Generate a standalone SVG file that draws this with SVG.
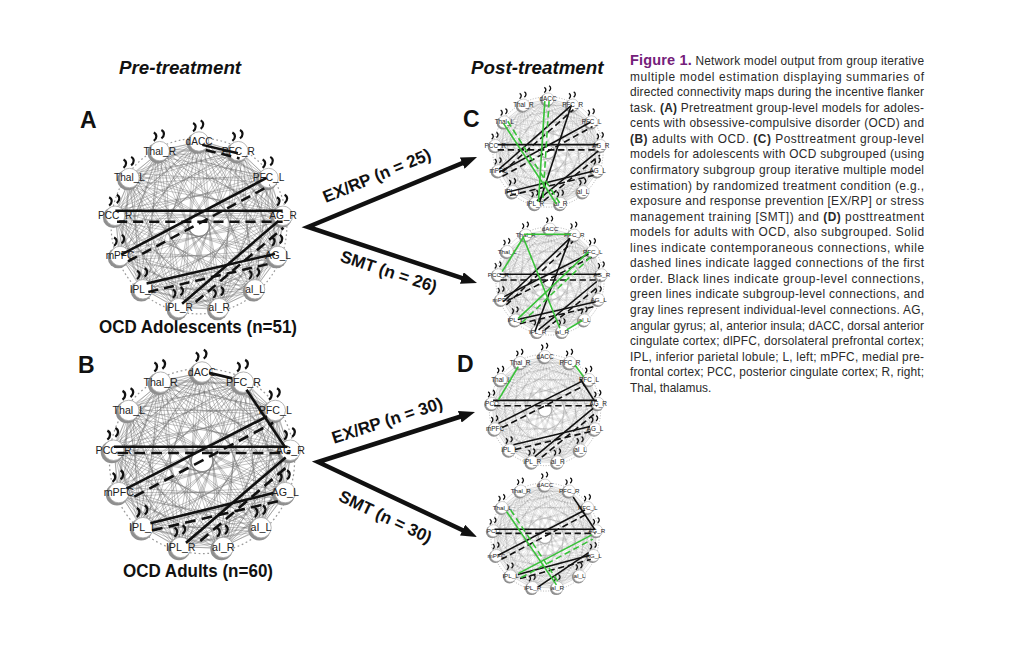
<svg xmlns="http://www.w3.org/2000/svg" xmlns:xlink="http://www.w3.org/1999/xlink" width="1024" height="647" viewBox="0 0 1024 647">
<style>
text{font-family:"Liberation Sans",Arial,Helvetica,sans-serif}
.mesh polygon{fill:none;stroke:#6e6e6e;stroke-width:0.9}
.mA{stroke-opacity:.5}
.mC{stroke-opacity:.3}
.ring{fill:none;stroke:#9a9a9a;stroke-width:1.4;stroke-dasharray:2 3}
.lbl{font-size:12px;text-anchor:middle;fill:#222}
.e{fill:none;stroke:#111;stroke-width:3}
.d{stroke-dasharray:12 7}
.g{stroke:#38c238}
.cap{font-size:11.9px;fill:#2a2a2a}
.b{font-weight:bold}
.hd{font-size:18.8px;font-weight:bold;font-style:italic;fill:#111}
.pl{font-size:23px;font-weight:bold;fill:#111}
.ttl{font-size:17.5px;font-weight:bold;fill:#111;text-anchor:middle}
.al{font-size:17px;font-weight:bold;fill:#111;text-anchor:middle}
.arr{fill:none;stroke:#111;stroke-width:4.5;stroke-linejoin:miter}
</style>
<defs>
<g id="mesh" class="mesh">
<polygon points="0,-100 46.5,-88.6 82.3,-56.8 99.3,-12.1 93.5,35.5 66.3,74.9 23.9,97.1 -23.9,97.1 -66.3,74.9 -93.5,35.5 -99.3,-12.1 -82.3,-56.8 -46.5,-88.6"/>
<polygon points="0,-100 82.3,-56.8 93.5,35.5 23.9,97.1 -66.3,74.9 -99.3,-12.1 -46.5,-88.6 46.5,-88.6 99.3,-12.1 66.3,74.9 -23.9,97.1 -93.5,35.5 -82.3,-56.8"/>
<polygon points="0,-100 99.3,-12.1 23.9,97.1 -93.5,35.5 -46.5,-88.6 82.3,-56.8 66.3,74.9 -66.3,74.9 -82.3,-56.8 46.5,-88.6 93.5,35.5 -23.9,97.1 -99.3,-12.1"/>
<polygon points="0,-100 93.5,35.5 -66.3,74.9 -46.5,-88.6 99.3,-12.1 -23.9,97.1 -82.3,-56.8 82.3,-56.8 23.9,97.1 -99.3,-12.1 46.5,-88.6 66.3,74.9 -93.5,35.5"/>
<polygon points="0,-100 66.3,74.9 -99.3,-12.1 82.3,-56.8 -23.9,97.1 -46.5,-88.6 93.5,35.5 -93.5,35.5 46.5,-88.6 23.9,97.1 -82.3,-56.8 99.3,-12.1 -66.3,74.9"/>
<polygon points="0,-100 23.9,97.1 -46.5,-88.6 66.3,74.9 -82.3,-56.8 93.5,35.5 -99.3,-12.1 99.3,-12.1 -93.5,35.5 82.3,-56.8 -66.3,74.9 46.5,-88.6 -23.9,97.1"/>
</g>
<g id="nd">
<circle cx="-2" cy="2" r="12.5" fill="#8f8f8f"/>
<circle r="11.5" fill="#fff" stroke="#aaa" stroke-width="1"/>
<path d="M-7,-22 c4,2 4,7 0,10 M2,-25 c4,2 4,7 0,10" fill="none" stroke="#111" stroke-width="2.6"/>
</g>
<marker id="ah" viewBox="0 0 16 12" markerWidth="16" markerHeight="12" refX="6" refY="6" orient="auto-start-reverse" markerUnits="userSpaceOnUse">
<path d="M0,0 L16,6 L0,12 z" fill="#111"/>
</marker>
</defs>
<rect width="1024" height="647" fill="#fff"/>

<text class="hd" x="119" y="74">Pre-treatment</text>
<text class="hd" x="471" y="74">Post-treatment</text>
<text class="pl" x="80" y="128">A</text>
<text class="pl" x="78" y="373">B</text>
<text class="pl" x="463" y="127">C</text>
<text class="pl" x="457" y="372">D</text>
<text class="ttl" x="198" y="333" textLength="198" lengthAdjust="spacingAndGlyphs">OCD Adolescents (n=51)</text>
<text class="ttl" x="198" y="577" textLength="150" lengthAdjust="spacingAndGlyphs">OCD Adults (n=60)</text>

<g id="netA" transform="translate(199,226) scale(0.845)">
<g class="mA"><use href="#mesh"/><use href="#mesh" transform="rotate(4)"/><use href="#mesh" transform="rotate(-4) scale(0.97)"/></g>
<circle class="ring" r="104"/><circle r="8" fill="#fff"/>
<g id="A-dACC" transform="translate(0,-100)"><use href="#nd"/><text class="lbl" y="4">dACC</text></g>
<g id="A-dlPFC_R" transform="translate(46.5,-88.6)"><use href="#nd"/><text class="lbl" y="4">PFC_R</text></g>
<g id="A-dlPFC_L" transform="translate(82.3,-56.8)"><use href="#nd"/><text class="lbl" y="4">PFC_L</text></g>
<g id="A-AG_R" transform="translate(99.3,-12.1)"><use href="#nd"/><text class="lbl" y="4">AG_R</text></g>
<g id="A-AG_L" transform="translate(93.5,35.5)"><use href="#nd"/><text class="lbl" y="4">AG_L</text></g>
<g id="A-aI_L" transform="translate(66.3,74.9)"><use href="#nd"/><text class="lbl" y="4">aI_L</text></g>
<g id="A-aI_R" transform="translate(23.9,97.1)"><use href="#nd"/><text class="lbl" y="4">aI_R</text></g>
<g id="A-IPL_R" transform="translate(-23.9,97.1)"><use href="#nd"/><text class="lbl" y="4">IPL_R</text></g>
<g id="A-IPL_L" transform="translate(-66.3,74.9)"><use href="#nd"/><text class="lbl" y="4">IPL_L</text></g>
<g id="A-mPFC" transform="translate(-93.5,35.5)"><use href="#nd"/><text class="lbl" y="4">mPFC</text></g>
<g id="A-PCC" transform="translate(-99.3,-12.1)"><use href="#nd"/><text class="lbl" y="4">PCC_R</text></g>
<g id="A-Thal_L" transform="translate(-82.3,-56.8)"><use href="#nd"/><text class="lbl" y="4">Thal_L</text></g>
<g id="A-Thal_R" transform="translate(-46.5,-88.6)"><use href="#nd"/><text class="lbl" y="4">Thal_R</text></g>
</g>

<g id="netB" transform="translate(202,461) scale(0.89)">
<g class="mA"><use href="#mesh"/><use href="#mesh" transform="rotate(4)"/><use href="#mesh" transform="rotate(-4) scale(0.97)"/></g>
<circle class="ring" r="104"/><circle r="8" fill="#fff"/>
<g id="B-dACC" transform="translate(0,-100)"><use href="#nd"/><text class="lbl" y="4">dACC</text></g>
<g id="B-dlPFC_R" transform="translate(46.5,-88.6)"><use href="#nd"/><text class="lbl" y="4">PFC_R</text></g>
<g id="B-dlPFC_L" transform="translate(82.3,-56.8)"><use href="#nd"/><text class="lbl" y="4">PFC_L</text></g>
<g id="B-AG_R" transform="translate(99.3,-12.1)"><use href="#nd"/><text class="lbl" y="4">AG_R</text></g>
<g id="B-AG_L" transform="translate(93.5,35.5)"><use href="#nd"/><text class="lbl" y="4">AG_L</text></g>
<g id="B-aI_L" transform="translate(66.3,74.9)"><use href="#nd"/><text class="lbl" y="4">aI_L</text></g>
<g id="B-aI_R" transform="translate(23.9,97.1)"><use href="#nd"/><text class="lbl" y="4">aI_R</text></g>
<g id="B-IPL_R" transform="translate(-23.9,97.1)"><use href="#nd"/><text class="lbl" y="4">IPL_R</text></g>
<g id="B-IPL_L" transform="translate(-66.3,74.9)"><use href="#nd"/><text class="lbl" y="4">IPL_L</text></g>
<g id="B-mPFC" transform="translate(-93.5,35.5)"><use href="#nd"/><text class="lbl" y="4">mPFC</text></g>
<g id="B-PCC" transform="translate(-99.3,-12.1)"><use href="#nd"/><text class="lbl" y="4">PCC_R</text></g>
<g id="B-Thal_L" transform="translate(-82.3,-56.8)"><use href="#nd"/><text class="lbl" y="4">Thal_L</text></g>
<g id="B-Thal_R" transform="translate(-46.5,-88.6)"><use href="#nd"/><text class="lbl" y="4">Thal_R</text></g>
</g>

<g id="netC1" transform="translate(548,152) scale(0.53)">
<g class="mC"><use href="#mesh"/><use href="#mesh" transform="rotate(4)"/><use href="#mesh" transform="rotate(-4) scale(0.97)"/></g>
<circle class="ring" r="104"/><circle r="8" fill="#fff"/>
<g id="C1-dACC" transform="translate(0,-100)"><use href="#nd"/><text class="lbl" y="4">dACC</text></g>
<g id="C1-dlPFC_R" transform="translate(46.5,-88.6)"><use href="#nd"/><text class="lbl" y="4">PFC_R</text></g>
<g id="C1-dlPFC_L" transform="translate(82.3,-56.8)"><use href="#nd"/><text class="lbl" y="4">PFC_L</text></g>
<g id="C1-AG_R" transform="translate(99.3,-12.1)"><use href="#nd"/><text class="lbl" y="4">AG_R</text></g>
<g id="C1-AG_L" transform="translate(93.5,35.5)"><use href="#nd"/><text class="lbl" y="4">AG_L</text></g>
<g id="C1-aI_L" transform="translate(66.3,74.9)"><use href="#nd"/><text class="lbl" y="4">aI_L</text></g>
<g id="C1-aI_R" transform="translate(23.9,97.1)"><use href="#nd"/><text class="lbl" y="4">aI_R</text></g>
<g id="C1-IPL_R" transform="translate(-23.9,97.1)"><use href="#nd"/><text class="lbl" y="4">IPL_R</text></g>
<g id="C1-IPL_L" transform="translate(-66.3,74.9)"><use href="#nd"/><text class="lbl" y="4">IPL_L</text></g>
<g id="C1-mPFC" transform="translate(-93.5,35.5)"><use href="#nd"/><text class="lbl" y="4">mPFC</text></g>
<g id="C1-PCC" transform="translate(-99.3,-12.1)"><use href="#nd"/><text class="lbl" y="4">PCC_R</text></g>
<g id="C1-Thal_L" transform="translate(-82.3,-56.8)"><use href="#nd"/><text class="lbl" y="4">Thal_L</text></g>
<g id="C1-Thal_R" transform="translate(-46.5,-88.6)"><use href="#nd"/><text class="lbl" y="4">Thal_R</text></g>
</g>

<g id="netC2" transform="translate(550,281) scale(0.52)">
<g class="mC"><use href="#mesh"/><use href="#mesh" transform="rotate(4)"/><use href="#mesh" transform="rotate(-4) scale(0.97)"/></g>
<circle class="ring" r="104"/><circle r="8" fill="#fff"/>
<g id="C2-dACC" transform="translate(0,-100)"><use href="#nd"/><text class="lbl" y="4">dACC</text></g>
<g id="C2-dlPFC_R" transform="translate(46.5,-88.6)"><use href="#nd"/><text class="lbl" y="4">PFC_R</text></g>
<g id="C2-dlPFC_L" transform="translate(82.3,-56.8)"><use href="#nd"/><text class="lbl" y="4">PFC_L</text></g>
<g id="C2-AG_R" transform="translate(99.3,-12.1)"><use href="#nd"/><text class="lbl" y="4">AG_R</text></g>
<g id="C2-AG_L" transform="translate(93.5,35.5)"><use href="#nd"/><text class="lbl" y="4">AG_L</text></g>
<g id="C2-aI_L" transform="translate(66.3,74.9)"><use href="#nd"/><text class="lbl" y="4">aI_L</text></g>
<g id="C2-aI_R" transform="translate(23.9,97.1)"><use href="#nd"/><text class="lbl" y="4">aI_R</text></g>
<g id="C2-IPL_R" transform="translate(-23.9,97.1)"><use href="#nd"/><text class="lbl" y="4">IPL_R</text></g>
<g id="C2-IPL_L" transform="translate(-66.3,74.9)"><use href="#nd"/><text class="lbl" y="4">IPL_L</text></g>
<g id="C2-mPFC" transform="translate(-93.5,35.5)"><use href="#nd"/><text class="lbl" y="4">mPFC</text></g>
<g id="C2-PCC" transform="translate(-99.3,-12.1)"><use href="#nd"/><text class="lbl" y="4">PCC_R</text></g>
<g id="C2-Thal_L" transform="translate(-82.3,-56.8)"><use href="#nd"/><text class="lbl" y="4">Thal_L</text></g>
<g id="C2-Thal_R" transform="translate(-46.5,-88.6)"><use href="#nd"/><text class="lbl" y="4">Thal_R</text></g>
</g>

<g id="netD1" transform="translate(545,410) scale(0.535)">
<g class="mC"><use href="#mesh"/><use href="#mesh" transform="rotate(4)"/><use href="#mesh" transform="rotate(-4) scale(0.97)"/></g>
<circle class="ring" r="104"/><circle r="8" fill="#fff"/>
<g id="D1-dACC" transform="translate(0,-100)"><use href="#nd"/><text class="lbl" y="4">dACC</text></g>
<g id="D1-dlPFC_R" transform="translate(46.5,-88.6)"><use href="#nd"/><text class="lbl" y="4">PFC_R</text></g>
<g id="D1-dlPFC_L" transform="translate(82.3,-56.8)"><use href="#nd"/><text class="lbl" y="4">PFC_L</text></g>
<g id="D1-AG_R" transform="translate(99.3,-12.1)"><use href="#nd"/><text class="lbl" y="4">AG_R</text></g>
<g id="D1-AG_L" transform="translate(93.5,35.5)"><use href="#nd"/><text class="lbl" y="4">AG_L</text></g>
<g id="D1-aI_L" transform="translate(66.3,74.9)"><use href="#nd"/><text class="lbl" y="4">aI_L</text></g>
<g id="D1-aI_R" transform="translate(23.9,97.1)"><use href="#nd"/><text class="lbl" y="4">aI_R</text></g>
<g id="D1-IPL_R" transform="translate(-23.9,97.1)"><use href="#nd"/><text class="lbl" y="4">IPL_R</text></g>
<g id="D1-IPL_L" transform="translate(-66.3,74.9)"><use href="#nd"/><text class="lbl" y="4">IPL_L</text></g>
<g id="D1-mPFC" transform="translate(-93.5,35.5)"><use href="#nd"/><text class="lbl" y="4">mPFC</text></g>
<g id="D1-PCC" transform="translate(-99.3,-12.1)"><use href="#nd"/><text class="lbl" y="4">PCC</text></g>
<g id="D1-Thal_L" transform="translate(-82.3,-56.8)"><use href="#nd"/><text class="lbl" y="4">Thal_L</text></g>
<g id="D1-Thal_R" transform="translate(-46.5,-88.6)"><use href="#nd"/><text class="lbl" y="4">Thal_R</text></g>
</g>

<g id="netD2" transform="translate(545,537) scale(0.52)">
<g class="mC"><use href="#mesh"/><use href="#mesh" transform="rotate(4)"/><use href="#mesh" transform="rotate(-4) scale(0.97)"/></g>
<circle class="ring" r="104"/><circle r="8" fill="#fff"/>
<g id="D2-dACC" transform="translate(0,-100)"><use href="#nd"/><text class="lbl" y="4">dACC</text></g>
<g id="D2-dlPFC_R" transform="translate(46.5,-88.6)"><use href="#nd"/><text class="lbl" y="4">PFC_R</text></g>
<g id="D2-dlPFC_L" transform="translate(82.3,-56.8)"><use href="#nd"/><text class="lbl" y="4">PFC_L</text></g>
<g id="D2-AG_R" transform="translate(99.3,-12.1)"><use href="#nd"/><text class="lbl" y="4">AG_R</text></g>
<g id="D2-AG_L" transform="translate(93.5,35.5)"><use href="#nd"/><text class="lbl" y="4">AG_L</text></g>
<g id="D2-aI_L" transform="translate(66.3,74.9)"><use href="#nd"/><text class="lbl" y="4">aI_L</text></g>
<g id="D2-aI_R" transform="translate(23.9,97.1)"><use href="#nd"/><text class="lbl" y="4">aI_R</text></g>
<g id="D2-IPL_R" transform="translate(-23.9,97.1)"><use href="#nd"/><text class="lbl" y="4">IPL_R</text></g>
<g id="D2-IPL_L" transform="translate(-66.3,74.9)"><use href="#nd"/><text class="lbl" y="4">IPL_L</text></g>
<g id="D2-mPFC" transform="translate(-93.5,35.5)"><use href="#nd"/><text class="lbl" y="4">mPFC</text></g>
<g id="D2-PCC" transform="translate(-99.3,-12.1)"><use href="#nd"/><text class="lbl" y="4">PCC</text></g>
<g id="D2-Thal_L" transform="translate(-82.3,-56.8)"><use href="#nd"/><text class="lbl" y="4">Thal_L</text></g>
<g id="D2-Thal_R" transform="translate(-46.5,-88.6)"><use href="#nd"/><text class="lbl" y="4">Thal_R</text></g>
</g>

<g id="connectors">
<g transform="translate(199,226) scale(0.845)">
<path class="e" d="M4,-96 L46,-86"/><path class="e d" d="M8,-90 L48,-80"/>
<path class="e" d="M-99,-18 L99,-18"/><path class="e d" d="M-97,-5 L99,-5"/>
<path class="e" d="M-92,34 L80,-57"/><path class="e d" d="M-84,42 L84,-48"/>
<path class="e" d="M-62,68 L90,33"/><path class="e d" d="M-60,78 L86,44"/>
<path class="e" d="M-20,92 L94,-6"/><path class="e d" d="M-4,90 L100,2"/>
</g>
<g transform="translate(202,461) scale(0.89)">
<path class="e" d="M8,-99 L34,-93"/>
<path class="e" d="M50,-80 L93,-16"/>
<path class="e" d="M-99,-16 L96,-16"/><path class="e d" d="M-95,-9 L99,-9"/>
<path class="e" d="M-85,31 L73,-50"/><path class="e d" d="M-76,40 L80,-43"/>
<path class="e" d="M-58,70 L80,36"/><path class="e d" d="M-56,78 L86,45"/>
<path class="e" d="M-18,92 L94,-4"/><path class="e d" d="M-2,90 L96,6"/>
</g>
<g transform="translate(548,152) scale(0.53)">
<path class="e" d="M-95,-14 L95,-14"/><path class="e d" d="M-95,-4 L95,-4"/>
<path class="e" d="M-92,32 L42,-86"/><path class="e d" d="M-86,38 L48,-80"/>
<path class="e" d="M-92,38 L80,-56"/><path class="e d" d="M-86,46 L84,-48"/>
<path class="e" d="M-78,76 L86,36"/><path class="e d" d="M-72,82 L86,44"/>
<path class="e" d="M-21,92 L95,-2"/><path class="e d" d="M-8,92 L98,6"/>
<path class="e" d="M-16,95 L44,-88"/>
<path class="e g" d="M-6,-96 L-18,94"/><path class="e g d" d="M2,-96 L-10,94"/>
<path class="e g" d="M-84,-54 L16,98"/><path class="e g d" d="M-76,-58 L22,96"/>
</g>
<g transform="translate(550,281) scale(0.52)">
<path class="e" d="M-97,-13 L97,-13"/><path class="e d" d="M-95,-2 L97,-2"/>
<path class="e" d="M-90,40 L38,-82"/><path class="e d" d="M-84,46 L44,-76"/>
<path class="e" d="M-88,30 L74,-52"/><path class="e d" d="M-82,38 L80,-46"/>
<path class="e" d="M-29,97 L38,-82"/>
<path class="e" d="M-62,74 L88,40"/><path class="e d" d="M-58,82 L90,48"/>
<path class="e" d="M-22,94 L90,1"/><path class="e d" d="M-10,94 L94,10"/>
<path class="e g" d="M-50,-90 L40,-90"/>
<path class="e g" d="M-52,-85 L19,91"/>
<path class="e g" d="M-50,-86 L-92,-18"/>
<path class="e g" d="M-61,72 L74,-56"/><path class="e g d" d="M-54,80 L80,-48"/>
<path class="e g" d="M32,94 L62,76"/>
</g>
<g transform="translate(545,410) scale(0.535)">
<path class="e" d="M-97,-18 L97,-18"/><path class="e d" d="M-95,-8 L97,-8"/>
<path class="e" d="M-87,25 L68,-53"/><path class="e d" d="M-80,33 L74,-46"/>
<path class="e" d="M66,-58 L93,-16"/>
<path class="e" d="M-59,65 L84,31"/><path class="e d" d="M-56,74 L86,40"/>
<path class="e" d="M-19,87 L90,-3"/><path class="e d" d="M-6,88 L94,6"/>
<path class="e g" d="M-87,-19 L-50,-81"/>
<path class="e g" d="M56,-84 L72,-62"/>
</g>
<g transform="translate(545,537) scale(0.52)">
<path class="e" d="M54,-77 L96,-14"/>
<path class="e" d="M-97,-15 L97,-15"/><path class="e d" d="M-95,-7 L97,-7"/>
<path class="e" d="M-90,35 L77,-52"/><path class="e d" d="M-84,43 L82,-45"/>
<path class="e" d="M-52,72 L86,35"/><path class="e d" d="M-48,80 L88,43"/>
<path class="e" d="M-13,96 L84,30"/>
<path class="e g" d="M-74,-49 L22,92"/><path class="e g d" d="M-66,-52 L28,90"/>
<path class="e g" d="M-51,70 L90,-4"/><path class="e g d" d="M-46,78 L92,4"/>
</g>
<path id="arrows-adol" class="arr" d="M467.8,160.8 L308,227 L467.5,279.9" marker-start="url(#ah)" marker-end="url(#ah)"/>
<path id="arrows-adult" class="arr" d="M465.5,415 L318,462 L468,532.7" marker-start="url(#ah)" marker-end="url(#ah)"/>
<text class="al" x="379" y="181" transform="rotate(-22.5 379 181)">EX/RP (n = 25)</text>
<text class="al" x="387" y="277" transform="rotate(18.3 387 277)">SMT (n = 26)</text>
<text class="al" x="389" y="426" transform="rotate(-18 389 426)">EX/RP (n = 30)</text>
<text class="al" x="383" y="522" transform="rotate(25.5 383 522)">SMT (n = 30)</text>
</g>

<g id="caption" class="cap">
<text x="630" y="65" textLength="294" lengthAdjust="spacing"><tspan class="b" fill="#74207a" font-size="14.5">Figure 1.</tspan> Network model output from group iterative</text>
<text x="630" y="80.6" textLength="294" lengthAdjust="spacing">multiple model estimation displaying summaries of</text>
<text x="630" y="96.1" textLength="294" lengthAdjust="spacing">directed connectivity maps during the incentive flanker</text>
<text x="630" y="111.7" textLength="294" lengthAdjust="spacing">task. <tspan class="b">(A)</tspan> Pretreatment group-level models for adoles-</text>
<text x="630" y="127.2" textLength="294" lengthAdjust="spacing">cents with obsessive-compulsive disorder (OCD) and</text>
<text x="630" y="142.8" textLength="294" lengthAdjust="spacing"><tspan class="b">(B)</tspan> adults with OCD. <tspan class="b">(C)</tspan> Posttreatment group-level</text>
<text x="630" y="158.4" textLength="294" lengthAdjust="spacing">models for adolescents with OCD subgrouped (using</text>
<text x="630" y="173.9" textLength="294" lengthAdjust="spacing">confirmatory subgroup group iterative multiple model</text>
<text x="630" y="189.5" textLength="294" lengthAdjust="spacing">estimation) by randomized treatment condition (e.g.,</text>
<text x="630" y="205" textLength="294" lengthAdjust="spacing">exposure and response prevention [EX/RP] or stress</text>
<text x="630" y="220.6" textLength="294" lengthAdjust="spacing">management training [SMT]) and <tspan class="b">(D)</tspan> posttreatment</text>
<text x="630" y="236.2" textLength="294" lengthAdjust="spacing">models for adults with OCD, also subgrouped. Solid</text>
<text x="630" y="251.7" textLength="294" lengthAdjust="spacing">lines indicate contemporaneous connections, while</text>
<text x="630" y="267.3" textLength="294" lengthAdjust="spacing">dashed lines indicate lagged connections of the first</text>
<text x="630" y="282.8" textLength="294" lengthAdjust="spacing">order. Black lines indicate group-level connections,</text>
<text x="630" y="298.4" textLength="294" lengthAdjust="spacing">green lines indicate subgroup-level connections, and</text>
<text x="630" y="314" textLength="294" lengthAdjust="spacing">gray lines represent individual-level connections. AG,</text>
<text x="630" y="329.5" textLength="294" lengthAdjust="spacing">angular gyrus; aI, anterior insula; dACC, dorsal anterior</text>
<text x="630" y="345.1" textLength="294" lengthAdjust="spacing">cingulate cortex; dlPFC, dorsolateral prefrontal cortex;</text>
<text x="630" y="360.6" textLength="294" lengthAdjust="spacing">IPL, inferior parietal lobule; L, left; mPFC, medial pre-</text>
<text x="630" y="376.2" textLength="294" lengthAdjust="spacing">frontal cortex; PCC, posterior cingulate cortex; R, right;</text>
<text x="630" y="391.7">Thal, thalamus.</text>
</g>
</svg>
